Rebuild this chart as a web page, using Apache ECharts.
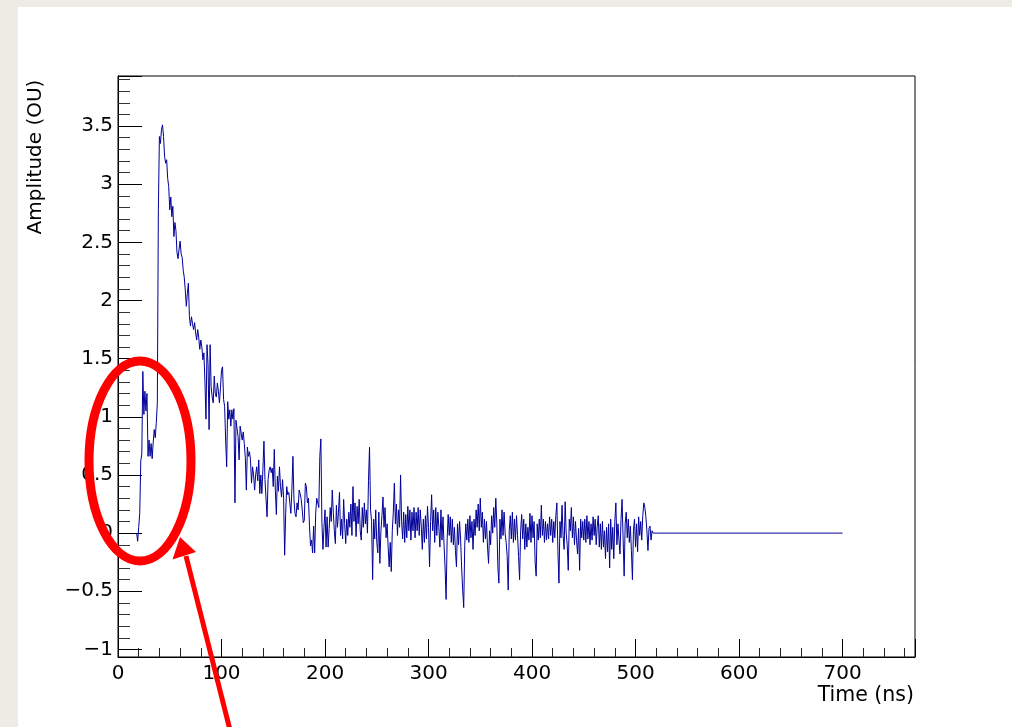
<!DOCTYPE html>
<html><head><meta charset="utf-8">
<script src="https://cdn.jsdelivr.net/npm/echarts@6/dist/echarts.min.js"></script>
<style>html,body{margin:0;padding:0;background:#fff;}#c{width:1012px;height:727px;}</style>
</head><body><div id="c"></div>
<script>
// Sampled waveform: one sample per ns starting at startTimeNs
const startTimeNs = 18;
const amplitude = [
  0.00, -0.07, 0.05, 0.17, 0.62, 0.68, 1.39, 1.02, 1.22, 1.05,
  1.20, 0.66, 0.80, 0.66, 0.77, 0.64, 0.78, 0.89, 0.82, 0.95,
  1.12, 2.78, 3.41, 3.35, 3.47, 3.51, 3.41, 3.24, 3.18, 3.21,
  3.05, 2.98, 2.78, 2.89, 2.72, 2.81, 2.55, 2.67, 2.60, 2.41,
  2.36, 2.44, 2.51, 2.40, 2.37, 2.26, 2.20, 2.09, 1.95, 2.06,
  2.15, 1.86, 1.78, 1.86, 1.80, 1.75, 1.81, 1.72, 1.66, 1.75,
  1.68, 1.58, 1.66, 1.60, 1.49, 1.55, 1.30, 0.98, 1.62, 1.45,
  0.89, 1.62, 1.26, 1.17, 1.12, 1.35, 1.20, 1.17, 1.29, 1.22,
  1.12, 1.25, 1.40, 1.43, 1.15, 1.09, 0.80, 0.57, 1.13, 0.98,
  1.06, 0.92, 1.06, 0.98, 1.07, 0.26, 0.97, 0.97, 0.83, 0.63,
  0.92, 0.86, 0.80, 0.87, 0.77, 0.65, 0.37, 0.74, 0.66, 0.70,
  0.63, 0.43, 0.57, 0.50, 0.37, 0.50, 0.57, 0.45, 0.63, 0.34,
  0.50, 0.34, 0.55, 0.79, 0.46, 0.30, 0.14, 0.46, 0.54, 0.57,
  0.52, 0.56, 0.40, 0.72, 0.37, 0.16, 0.49, 0.36, 0.57, 0.40,
  0.31, 0.46, 0.30, -0.19, 0.17, 0.40, 0.33, 0.35, 0.26, 0.17,
  0.38, 0.66, 0.29, 0.17, 0.14, 0.26, 0.20, 0.37, 0.34, 0.29,
  0.20, 0.09, 0.11, 0.43, 0.40, 0.26, 0.30, 0.06, -0.11, -0.06,
  -0.17, 0.06, -0.17, 0.17, 0.30, 0.31, 0.22, 0.66, 0.81, 0.09,
  -0.14, 0.05, 0.20, -0.12, 0.14, -0.12, 0.04, 0.22, 0.10, 0.37,
  0.18, 0.02, -0.09, 0.24, 0.05, 0.18, 0.35, -0.02, 0.12, -0.05,
  0.29, 0.08, -0.09, 0.12, -0.02, 0.18, 0.05, 0.25, -0.02, 0.40,
  0.10, 0.26, -0.03, 0.23, 0.08, 0.29, 0.02, -0.06, 0.22, 0.05,
  0.26, 0.08, 0.20, 0.00, 0.45, 0.74, 0.20, 0.10, -0.40, 0.12,
  -0.05, 0.20, -0.08, -0.17, 0.18, -0.26, 0.02, 0.15, 0.31, 0.05,
  0.22, -0.04, 0.08, -0.12, -0.29, -0.08, -0.33, 0.02, 0.18, 0.43,
  0.08, 0.25, -0.02, 0.20, 0.05, 0.50, 0.10, -0.05, 0.18, -0.08,
  0.16, -0.04, 0.23, 0.02, 0.20, -0.06, 0.18, 0.02, 0.22, -0.04,
  0.18, 0.02, 0.22, -0.02, 0.20, 0.06, -0.14, 0.12, -0.08, 0.15,
  -0.05, 0.23, 0.05, -0.29, 0.10, 0.33, 0.02, 0.20, -0.08, 0.22,
  -0.02, 0.18, 0.05, -0.12, 0.20, -0.06, 0.14, -0.10, -0.30, -0.57,
  -0.05, 0.16, -0.02, 0.14, -0.08, 0.12, -0.10, 0.05, -0.15, -0.29,
  0.08, -0.10, 0.10, -0.05, -0.30, -0.49, -0.64, -0.10, 0.08, -0.06,
  0.12, -0.08, 0.15, -0.04, 0.10, -0.14, 0.12, -0.02, 0.20, 0.05,
  0.25, 0.02, 0.30, 0.05, 0.18, -0.08, 0.12, -0.05, 0.10, -0.12,
  -0.26, 0.02, -0.10, 0.15, 0.00, 0.22, 0.05, 0.30, 0.08, -0.29,
  -0.43, 0.12, -0.05, 0.20, -0.02, 0.18, 0.00, -0.08, -0.20, -0.49,
  0.02, 0.15, -0.05, 0.18, -0.08, 0.12, -0.06, 0.15, -0.02, -0.20,
  -0.40, 0.02, 0.16, -0.05, 0.12, -0.14, 0.08, -0.12, 0.05, -0.06,
  0.17, -0.08, 0.15, -0.04, 0.10, -0.25, -0.37, 0.08, -0.06, 0.12,
  -0.04, 0.24, -0.02, 0.12, -0.08, 0.10, -0.06, 0.08, -0.05, 0.14,
  -0.02, 0.12, -0.08, 0.10, -0.04, 0.15, 0.26, -0.15, -0.43, 0.10,
  -0.04, 0.24, -0.02, -0.14, 0.27, 0.00, -0.10, -0.32, 0.12, 0.02,
  0.22, -0.04, 0.14, -0.10, 0.10, -0.06, -0.18, 0.04, -0.32, 0.12,
  -0.04, 0.10, -0.06, 0.12, -0.08, 0.15, -0.05, 0.10, -0.10, 0.08,
  -0.06, 0.14, -0.02, 0.12, -0.10, 0.06, 0.15, -0.12, 0.08, -0.14,
  0.10, -0.12, 0.02, -0.22, 0.05, -0.16, 0.08, -0.30, 0.12, -0.14,
  0.05, -0.22, 0.10, 0.26, -0.10, 0.08, -0.06, -0.18, 0.12, 0.29,
  -0.05, -0.37, 0.08, 0.18, -0.04, 0.12, -0.08, 0.06, -0.15, -0.40,
  0.02, 0.12, -0.12, 0.08, -0.16, 0.14, -0.02, 0.10, -0.06, 0.15,
  0.26, 0.22, 0.14, 0.02, -0.15, 0.04, 0.06, -0.06, 0.02, 0.00,
  0.00
];
// Flat tail after the digitised window
const tailTimesNs = [520, 700];
const tailAmplitude = [0, 0];

const xAxisTitle = 'Time (ns)';
const yAxisTitle = 'Amplitude (OU)';
const xRange = [0, 770];
const yRange = [-1.065, 3.93];

const FONT = 'DejaVu Sans';
const seriesData = amplitude.map((v, i) => [startTimeNs + i, v])
  .concat(tailTimesNs.map((t, i) => [t, tailAmplitude[i]]));

function fmtY(v) {
  const k = v / 0.5;
  if (Math.abs(k - Math.round(k)) > 1e-6) return '';
  const r = Math.round(v * 10) / 10;
  return r < 0 ? '\u2212' + String(-r) : String(r);
}
function fmtX(v) {
  return (Math.abs(v % 100) < 1e-6) ? String(v) : '';
}

const chart = echarts.init(document.getElementById('c'), null, {renderer: 'canvas'});
chart.setOption({
  animation: false,
  backgroundColor: '#ffffff',
  grid: {left: 118, right: 97, top: 76, bottom: 70, show: true, borderColor: '#000', borderWidth: 1, backgroundColor: 'transparent'},
  xAxis: {
    type: 'value', min: xRange[0], max: xRange[1], interval: 100,
    axisLine: {onZero: false, lineStyle: {color: '#000', width: 1}},
    axisTick: {inside: true, length: 18, lineStyle: {color: '#000'}},
    minorTick: {show: true, splitNumber: 5, length: 9, lineStyle: {color: '#222'}},
    splitLine: {show: false},
    axisLabel: {formatter: fmtX, color: '#000', fontFamily: FONT, fontSize: 20, margin: 7, showMaxLabel: false}
  },
  yAxis: {
    type: 'value', min: yRange[0], max: yRange[1], splitNumber: 10,
    axisLine: {onZero: false, lineStyle: {color: '#000', width: 1}},
    axisTick: {inside: true, length: 24, lineStyle: {color: '#000'}},
    minorTick: {show: true, splitNumber: 5, length: 12, lineStyle: {color: '#333'}},
    splitLine: {show: false},
    axisLabel: {formatter: fmtY, color: '#000', fontFamily: FONT, fontSize: 20, margin: 5}
  },
  series: [{
    type: 'line', data: seriesData, showSymbol: false, symbol: 'none',
    lineStyle: {color: '#000099', width: 1}, z: 5, silent: true
  }],
  graphic: [
    {type: 'rect', z: -10, shape: {x: 0, y: 0, width: 18, height: 727}, style: {fill: '#eeebe4'}},
    {type: 'rect', z: -10, shape: {x: 0, y: 0, width: 1012, height: 7}, style: {fill: '#eeebe4'}},
    {type: 'text', x: 914, y: 696, style: {text: xAxisTitle, font: '20.5px "DejaVu Sans"', fill: '#000', textAlign: 'right', textVerticalAlign: 'middle'}},
    {type: 'text', x: 36, y: 157, rotation: Math.PI / 2, style: {text: yAxisTitle, font: '20px "DejaVu Sans"', fill: '#000', textAlign: 'center', textVerticalAlign: 'middle'}},
    {type: 'ellipse', z: 100, shape: {cx: 140, cy: 461, rx: 51, ry: 100}, style: {fill: 'none', stroke: '#ff0000', lineWidth: 9}},
    {type: 'line', z: 100, shape: {x1: 230.5, y1: 732, x2: 186, y2: 556}, style: {stroke: '#ff0000', lineWidth: 5}},
    {type: 'polygon', z: 100, shape: {points: [[180, 537], [172.5, 559.5], [196, 552]]}, style: {fill: '#ff0000'}}
  ]
});
</script>
</body></html>
